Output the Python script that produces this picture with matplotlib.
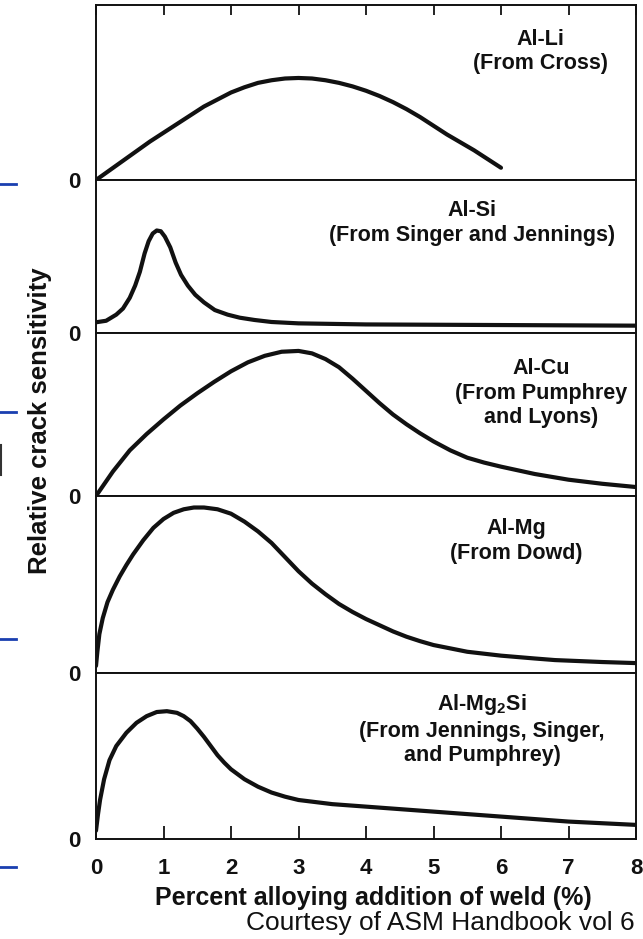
import matplotlib
matplotlib.use("Agg")
import matplotlib.pyplot as plt
from matplotlib.lines import Line2D

plt.rcParams["font.family"] = ["Liberation Sans", "DejaVu Sans"]
plt.rcParams["mathtext.fontset"] = "custom"
plt.rcParams["mathtext.rm"] = "Liberation Sans:bold"
plt.rcParams["mathtext.it"] = "Liberation Sans:bold"
plt.rcParams["mathtext.bf"] = "Liberation Sans:bold"

# Relative crack sensitivity (fraction of each panel's height) vs. alloy addition (%)
al_li_x = [0.0, 0.2, 0.4, 0.6, 0.8, 1.0, 1.2, 1.4, 1.6, 1.8, 2.0, 2.2, 2.4, 2.6, 2.8, 3.0, 3.2, 3.4,
           3.6, 3.8, 4.0, 4.2, 4.4, 4.6, 4.8, 5.0, 5.2, 5.4, 5.6, 5.8, 6.0]
al_li_y = [0.0, 0.055, 0.11, 0.165, 0.22, 0.27, 0.32, 0.37, 0.42, 0.46, 0.50, 0.53, 0.555, 0.57, 0.58,
           0.583, 0.58, 0.57, 0.555, 0.535, 0.51, 0.48, 0.445, 0.405, 0.36, 0.31, 0.26, 0.215, 0.17,
           0.12, 0.07]

al_si_x = [0.0, 0.15, 0.3, 0.4, 0.5, 0.58, 0.65, 0.72, 0.78, 0.84, 0.9, 0.96, 1.02, 1.1, 1.18, 1.26,
           1.36, 1.47, 1.6, 1.76, 1.95, 2.13, 2.35, 2.6, 3.0, 4.0, 6.0, 8.0]
al_si_y = [0.07, 0.08, 0.12, 0.16, 0.23, 0.31, 0.40, 0.52, 0.60, 0.65, 0.67, 0.665, 0.63, 0.56, 0.46,
           0.38, 0.31, 0.25, 0.20, 0.15, 0.12, 0.10, 0.085, 0.072, 0.063, 0.056, 0.052, 0.048]

al_cu_x = [0.0, 0.25, 0.5, 0.75, 1.0, 1.25, 1.5, 1.75, 2.0, 2.25, 2.5, 2.75, 3.0, 3.2, 3.4, 3.6, 3.8,
           4.0, 4.2, 4.4, 4.6, 4.8, 5.0, 5.25, 5.5, 5.75, 6.0, 6.5, 7.0, 7.5, 8.0]
al_cu_y = [0.0, 0.15, 0.28, 0.38, 0.47, 0.555, 0.63, 0.70, 0.765, 0.82, 0.86, 0.885, 0.89, 0.875,
           0.84, 0.79, 0.72, 0.645, 0.57, 0.50, 0.44, 0.385, 0.335, 0.28, 0.235, 0.205, 0.18, 0.135,
           0.10, 0.075, 0.055]

al_mg_x = [0.0, 0.02, 0.05, 0.1, 0.17, 0.25, 0.35, 0.45, 0.55, 0.7, 0.85, 1.0, 1.15, 1.3, 1.45, 1.6,
           1.8, 2.0, 2.2, 2.4, 2.6, 2.8, 3.0, 3.2, 3.4, 3.6, 3.8, 4.0, 4.2, 4.4, 4.6, 4.8, 5.0, 5.5,
           6.0, 6.5, 6.8, 7.5, 8.0]
al_mg_y = [0.04, 0.12, 0.22, 0.31, 0.40, 0.47, 0.545, 0.61, 0.67, 0.75, 0.82, 0.87, 0.905, 0.925,
           0.935, 0.935, 0.925, 0.90, 0.855, 0.80, 0.735, 0.655, 0.575, 0.505, 0.445, 0.39, 0.345,
           0.305, 0.27, 0.235, 0.205, 0.18, 0.158, 0.12, 0.098, 0.082, 0.073, 0.062, 0.056]

al_mg2si_x = [0.0, 0.03, 0.06, 0.12, 0.2, 0.3, 0.45, 0.6, 0.75, 0.9, 1.05, 1.2, 1.3, 1.4, 1.5, 1.6,
              1.7, 1.8, 1.9, 2.0, 2.2, 2.4, 2.6, 2.8, 3.0, 3.5, 4.0, 4.5, 5.0, 5.5, 6.0, 6.5, 7.0,
              7.5, 8.0]
al_mg2si_y = [0.05, 0.15, 0.235, 0.36, 0.475, 0.56, 0.64, 0.70, 0.74, 0.765, 0.77, 0.76, 0.74, 0.71,
              0.665, 0.615, 0.56, 0.505, 0.46, 0.42, 0.36, 0.315, 0.28, 0.255, 0.235, 0.21, 0.195,
              0.18, 0.165, 0.15, 0.135, 0.12, 0.105, 0.095, 0.085]

panel_titles = [
    "Al-Li\n(From Cross)",
    "Al-Si\n(From Singer and Jennings)",
    "Al-Cu\n(From Pumphrey\nand Lyons)",
    "Al-Mg\n(From Dowd)",
    "Al-Mg$_2$Si\n(From Jennings, Singer,\nand Pumphrey)",
]
title_pos = [(6.58, 0.735), (5.57, 0.72), (6.59, 0.63), (6.22, 0.746), (5.72, 0.66)]

x_ticks = [0, 1, 2, 3, 4, 5, 6, 7, 8]
x_ticklabels = ["0", "1", "2", "3", "4", "5", "6", "7", "8"]

curves = [(al_li_x, al_li_y), (al_si_x, al_si_y), (al_cu_x, al_cu_y),
          (al_mg_x, al_mg_y), (al_mg2si_x, al_mg2si_y)]

W, H = 643, 939
ink = "#111111"
fig = plt.figure(figsize=(W / 100, H / 100), dpi=100)

edges = [5, 180, 333, 496, 673, 839]
left, right = 96, 636

for i, (xs, ys) in enumerate(curves):
    top, bot = edges[i], edges[i + 1]
    ax = fig.add_axes([left / W, 1 - bot / H, (right - left) / W, (bot - top) / H])
    ax.plot(xs, ys, color=ink, lw=3.0, solid_capstyle="round", solid_joinstyle="round")
    ax.set_xlim(0, 8)
    ax.set_ylim(0, 1)
    for sp in ax.spines.values():
        sp.set_linewidth(1.4)
        sp.set_color(ink)
    ax.set_yticks([0])
    ax.set_yticklabels(["0"], fontsize=16, fontweight="bold", color=ink)
    ax.tick_params(axis="y", length=0, pad=11.5)
    ax.set_xticks(x_ticks)
    if i == 0:
        ax.tick_params(axis="x", which="both", top=True, bottom=False, labeltop=False,
                       labelbottom=False, direction="in", length=7.5, width=1.3, color=ink)
    elif i == len(curves) - 1:
        ax.set_xticklabels(x_ticklabels, fontsize=16, fontweight="bold", color=ink)
        ax.tick_params(axis="x", bottom=True, top=False, direction="in", length=9.5,
                       width=1.3, color=ink, pad=13.5)
    else:
        ax.tick_params(axis="x", bottom=False, top=False, labelbottom=False)
    tx, ty = title_pos[i]
    ax.text(tx, ty, panel_titles[i], ha="center", va="center", fontsize=15.5,
            fontweight="bold", color=ink, linespacing=1.22)

fig.text(40 / W, 1 - 421 / H, "Relative crack sensitivity", rotation=90, ha="center",
         va="center", fontsize=18.5, fontweight="bold", color=ink)
fig.text(373 / W, 1 - 898 / H, "Percent alloying addition of weld (%)", ha="center",
         va="center", fontsize=18, fontweight="bold", color=ink)
fig.text(635 / W, 1 - 923 / H, "Courtesy of ASM Handbook vol 6", ha="right",
         va="center", fontsize=19, color="#111111")

# slide rule marks along the left margin
for yy in [184, 412, 639, 867]:
    fig.add_artist(Line2D([0, 16 / W], [1 - yy / H, 1 - yy / H], color="#1a3fb0", lw=2.0))
fig.add_artist(Line2D([1 / W, 1 / W], [1 - 445 / H, 1 - 475 / H], color="#333333", lw=1.5))

fig.savefig("out.png", dpi=100)
